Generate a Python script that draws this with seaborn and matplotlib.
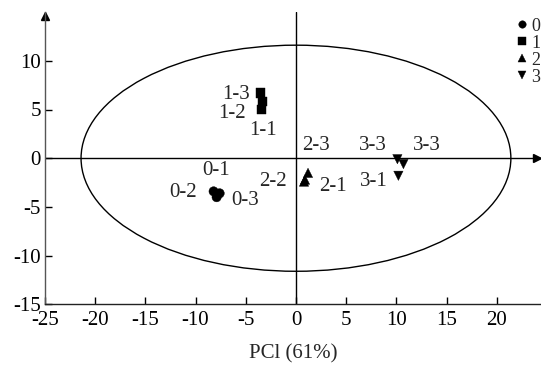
import numpy as np
import pandas as pd
import matplotlib
matplotlib.use("Agg")
import matplotlib.pyplot as plt
from matplotlib.patches import Ellipse
import seaborn as sns

# --- data (PC1 / PC2 scores) ---
groups = ["0", "0", "0", "1", "1", "1", "2", "2", "2", "3", "3", "3"]
pc1 = [-8.2, -7.6, -7.9, -3.45, -3.35, -3.55, 0.9, 0.8, 1.2, 10.2, 10.1, 10.7]
pc2 = [-3.4, -3.6, -4.0, 5.0, 5.85, 6.7, -2.2, -2.4, -1.5, -1.8, -0.1, -0.6]

# sample labels and where they sit on the plot
sample_labels = ["0-1", "0-2", "0-3", "1-1", "1-2", "1-3",
                 "2-1", "2-2", "2-3", "3-1", "3-3", "3-3"]
label_x = [-8.0, -11.2, -5.1, -3.25, -6.35, -6.0, 3.7, -2.25, 2.0, 7.8, 7.7, 13.0]
label_y = [-1.3, -3.5, -4.3, 2.85, 4.6, 6.5, -2.9, -2.4, 1.3, -2.4, 1.3, 1.3]

# confidence ellipse (full axes)
ell_w, ell_h = 42.8, 23.2

x_ticks = [-25, -20, -15, -10, -5, 0, 5, 10, 15, 20]
y_ticks = [-15, -10, -5, 0, 5, 10]

df = pd.DataFrame({"PC1": pc1, "PC2": pc2, "group": groups})

sns.set_style("ticks")
plt.rcParams["font.family"] = ["Liberation Serif", "DejaVu Serif"]
plt.rcParams["font.size"] = 15
plt.rcParams["axes.unicode_minus"] = False

fig = plt.figure(figsize=(5.41, 3.65), dpi=100)
ax = fig.add_axes([0.083, 0.166, 0.917, 0.801])

sns.scatterplot(data=df, x="PC1", y="PC2", style="group",
                markers={"0": "o", "1": "s", "2": "^", "3": "v"},
                color="black", s=45, edgecolor="black", linewidth=0.3,
                ax=ax, zorder=3)

for t, lx, ly in zip(sample_labels, label_x, label_y):
    ax.text(lx, ly, t, ha="center", va="center", fontsize=15)

ax.add_patch(Ellipse((0, 0), ell_w, ell_h, fill=False, edgecolor="black", lw=1.0))
ax.axhline(0, color="black", lw=1.0, zorder=1)
ax.axvline(0, color="black", lw=1.0, zorder=1)

ax.set_xlim(-25, 24.4)
ax.set_ylim(-15, 15)
ax.set_xticks(x_ticks)
ax.set_yticks(y_ticks)
ax.tick_params(direction="in", length=5, width=1, colors="black", labelsize=15)
ax.tick_params(axis="x", pad=5)
ax.tick_params(axis="y", pad=3)
ax.set_xlabel("PCl (61%)", fontsize=15, labelpad=10)
ax.set_ylabel("")
for side in ["top", "right"]:
    ax.spines[side].set_visible(False)
ax.spines["left"].set_linewidth(1.0)
ax.spines["left"].set_color("#555555")
ax.spines["bottom"].set_linewidth(1.0)
ax.spines["bottom"].set_color("#222222")

# arrow heads on the axes
ax.plot(0.992, 0, ">", color="black", ms=6, transform=ax.get_yaxis_transform(), clip_on=False)
ax.plot(-25, 0.985, "^", color="black", ms=6, transform=ax.get_xaxis_transform(), clip_on=False)

# legend sits at the right edge, as in the original figure
sns.move_legend(ax, loc="upper left", bbox_to_anchor=(0.939, 1.005), frameon=False,
                title=None, handlelength=0.4, handletextpad=0.35, labelspacing=0.0,
                fontsize=13, borderaxespad=0, markerscale=0.8)

fig.savefig("out.png", dpi=100)
